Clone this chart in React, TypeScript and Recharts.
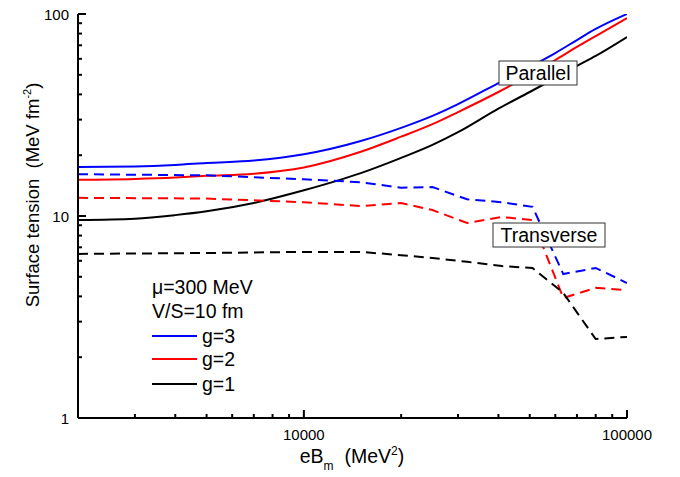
import React from 'react';
import { LineChart, Line, XAxis, YAxis } from 'recharts';

// eB_m values (MeV^2) for the smooth "parallel" curves
const solidEB = [2000, 3000, 4000, 5000, 7000, 10000, 15000, 20000, 25000, 30000, 40000, 50000, 60000, 70000, 80000, 100000];
const parallelG3 = [17.5, 17.6, 17.9, 18.3, 18.8, 20.2, 23.5, 27.3, 31.3, 35.8, 45.5, 54.7, 64.1, 74.3, 84.3, 100];
const parallelG2 = [15.1, 15.25, 15.5, 15.8, 16.2, 17.4, 20.8, 24.7, 28.5, 32.7, 41.1, 49.9, 59.2, 68.7, 77.8, 95.5];
const parallelG1 = [9.55, 9.7, 10.1, 10.55, 11.6, 13.4, 16.3, 19.4, 22.5, 26.0, 34.0, 41.1, 48.2, 55.3, 62.0, 76.9];

// eB_m values for the dashed "transverse" curves
const dashedEB = [2000, 5000, 10000, 15000, 20000, 25000, 32000, 41000, 51000, 63500, 80000, 100000];
const transverseG3 = [16.1, 15.9, 15.2, 14.7, 13.8, 13.9, 12.1, 11.7, 11.1, 5.16, 5.53, 4.66];
const transverseG2 = [12.3, 12.2, 11.7, 11.2, 11.6, 10.7, 9.23, 9.89, 9.55, 3.93, 4.41, 4.3];
const transverseG1 = [6.49, 6.56, 6.64, 6.64, 6.4, 6.2, 5.93, 5.65, 5.53, 4.16, 2.46, 2.52];

const xTicks = [3000, 4000, 5000, 6000, 7000, 8000, 9000, 10000, 20000, 30000, 40000, 50000, 60000, 70000, 80000, 90000, 100000];
const xLabels = [10000, 100000];
const yTicks = [1, 2, 3, 4, 5, 6, 7, 8, 9, 10, 20, 30, 40, 50, 60, 70, 80, 90, 100];
const yLabels = [1, 10, 100];

const X_DOMAIN = [2000, 100000];
const Y_DOMAIN = [1, 100];
const FONT = '"Liberation Sans", Arial, sans-serif';
const AXIS_LINE = { stroke: '#000', strokeWidth: 2 };
const MAJOR = 8;
const MINOR = 4;

const toRows = (xs: number[], ys: number[]) => xs.map((eb, i) => ({ eb, v: ys[i] }));

// tick marks point into the plot on every side
const BottomTick = (props: any) => {
    const { x, y, payload } = props;
    const major = xLabels.includes(payload.value);
    return (
        <g>
            <line x1={x} x2={x} y1={y} y2={y - (major ? MAJOR : MINOR)} stroke="#000" strokeWidth={2} />
            {major && (
                <text x={x} y={y + 22} textAnchor="middle" fontSize={15} fontFamily={FONT} fill="#000">
                    {payload.value}
                </text>
            )}
        </g>
    );
};

const TopTick = (props: any) => {
    const { x, y, payload } = props;
    const major = xLabels.includes(payload.value);
    return <line x1={x} x2={x} y1={y} y2={y + (major ? MAJOR : MINOR)} stroke="#000" strokeWidth={2} />;
};

const LeftTick = (props: any) => {
    const { x, y, payload } = props;
    const major = yLabels.includes(payload.value);
    return (
        <g>
            <line x1={x} x2={x + (major ? MAJOR : MINOR)} y1={y} y2={y} stroke="#000" strokeWidth={2} />
            {major && (
                <text x={x - 9} y={y + 5.5} textAnchor="end" fontSize={15} fontFamily={FONT} fill="#000">
                    {payload.value}
                </text>
            )}
        </g>
    );
};

const RightTick = (props: any) => {
    const { x, y, payload } = props;
    const major = yLabels.includes(payload.value);
    return <line x1={x} x2={x - (major ? MAJOR : MINOR)} y1={y} y2={y} stroke="#000" strokeWidth={2} />;
};

const series = [
    { rows: toRows(solidEB, parallelG3), color: '#0000ff', dash: undefined, type: 'monotone' },
    { rows: toRows(solidEB, parallelG2), color: '#ff0000', dash: undefined, type: 'monotone' },
    { rows: toRows(solidEB, parallelG1), color: '#000000', dash: undefined, type: 'monotone' },
    { rows: toRows(dashedEB, transverseG3), color: '#0000ff', dash: '10 6', type: 'linear' },
    { rows: toRows(dashedEB, transverseG2), color: '#ff0000', dash: '10 6', type: 'linear' },
    { rows: toRows(dashedEB, transverseG1), color: '#000000', dash: '10 6', type: 'linear' },
];

const legendItems = [
    { label: 'g=3', color: '#0000ff', y: 336 },
    { label: 'g=2', color: '#ff0000', y: 359 },
    { label: 'g=1', color: '#000000', y: 384 },
];

export default function App() {
    return (
        <div style={{ position: 'absolute', left: 0, top: 0, width: 680, height: 477, background: '#fff' }}>
            <LineChart width={680} height={477} margin={{ top: 14, right: 53, bottom: 0, left: 0 }}>
                <XAxis
                    xAxisId="b"
                    dataKey="eb"
                    type="number"
                    scale="log"
                    domain={X_DOMAIN}
                    allowDataOverflow
                    ticks={xTicks}
                    interval={0}
                    height={59}
                    tickSize={0}
                    tickMargin={0}
                    tickLine={false}
                    tick={BottomTick}
                    axisLine={AXIS_LINE}
                />
                <XAxis
                    xAxisId="t"
                    orientation="top"
                    dataKey="eb"
                    type="number"
                    scale="log"
                    domain={X_DOMAIN}
                    allowDataOverflow
                    ticks={xTicks}
                    interval={0}
                    height={0}
                    tickSize={0}
                    tickMargin={0}
                    tickLine={false}
                    tick={TopTick}
                    axisLine={AXIS_LINE}
                />
                <YAxis
                    yAxisId="l"
                    type="number"
                    scale="log"
                    domain={Y_DOMAIN}
                    allowDataOverflow
                    ticks={yTicks}
                    interval={0}
                    width={78}
                    tickSize={0}
                    tickMargin={0}
                    tickLine={false}
                    tick={LeftTick}
                    axisLine={AXIS_LINE}
                />
                <YAxis
                    yAxisId="r"
                    orientation="right"
                    type="number"
                    scale="log"
                    domain={Y_DOMAIN}
                    allowDataOverflow
                    ticks={yTicks}
                    interval={0}
                    width={0}
                    tickSize={0}
                    tickMargin={0}
                    tickLine={false}
                    tick={RightTick}
                    axisLine={AXIS_LINE}
                />
                {series.map((s, i) => (
                    <Line
                        key={i}
                        xAxisId="b"
                        yAxisId="l"
                        data={s.rows}
                        dataKey="v"
                        type={s.type as any}
                        stroke={s.color}
                        strokeWidth={2}
                        strokeDasharray={s.dash}
                        dot={false}
                        activeDot={false}
                        isAnimationActive={false}
                    />
                ))}
            </LineChart>
            <svg
                width={680}
                height={477}
                style={{ position: 'absolute', left: 0, top: 0, pointerEvents: 'none' }}
                fontFamily={FONT}
            >
                {/* axis titles */}
                <text x={352} y={463} textAnchor="middle" fontSize={19.5} fill="#000">
                    eB
                    <tspan fontSize={12} dy={7}>m</tspan>
                    <tspan dy={-7}>{'\u00a0\u00a0(MeV'}</tspan>
                    <tspan fontSize={12} dy={-8}>2</tspan>
                    <tspan dy={8}>)</tspan>
                </text>
                <text x={39} y={195} transform="rotate(-90 39 195)" textAnchor="middle" fontSize={18.5} fill="#000">
                    {'Surface tension\u00a0\u00a0(MeV fm'}
                    <tspan fontSize={11} dy={-8}>-2</tspan>
                    <tspan dy={8}>)</tspan>
                </text>

                {/* legend */}
                <text x={152} y={294} fontSize={19.5} fill="#000">μ=300 MeV</text>
                <text x={152} y={318} fontSize={19.5} fill="#000">V/S=10 fm</text>
                {legendItems.map((it) => (
                    <g key={it.label}>
                        <line x1={152} x2={197} y1={it.y} y2={it.y} stroke={it.color} strokeWidth={2} />
                        <text x={202} y={it.y + 7} fontSize={19.5} fill="#000">{it.label}</text>
                    </g>
                ))}

                {/* annotations */}
                <rect x={499} y={61} width={78} height={24} fill="#fff" stroke="#333" strokeWidth={1} />
                <text x={538} y={80} textAnchor="middle" fontSize={19.5} fill="#000">Parallel</text>
                <rect x={493} y={223} width={112} height={24} fill="#fff" stroke="#333" strokeWidth={1} />
                <text x={549} y={242} textAnchor="middle" fontSize={19.5} fill="#000">Transverse</text>
            </svg>
        </div>
    );
}
